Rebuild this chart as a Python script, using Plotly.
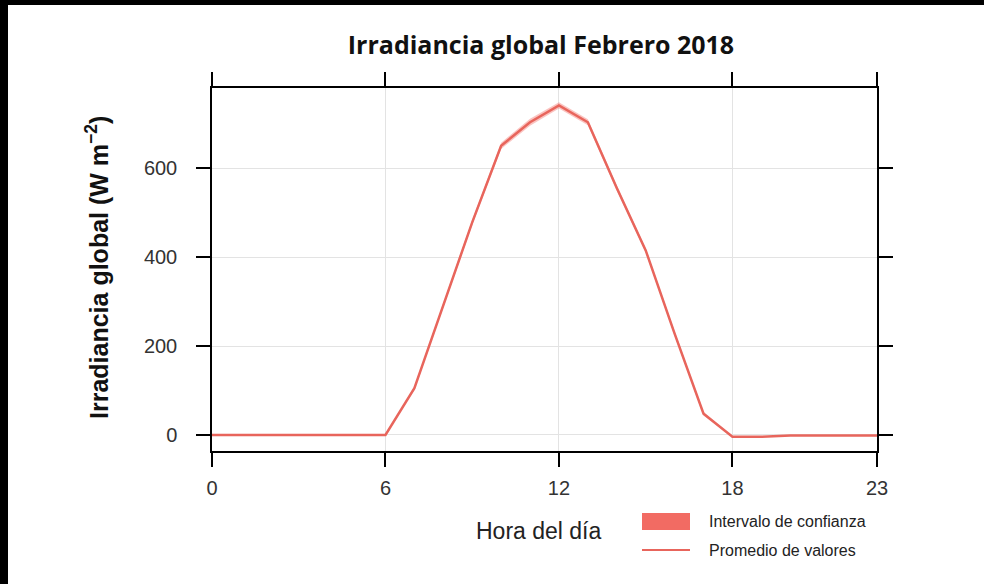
import plotly.graph_objects as go

hours = list(range(24))
mean_vals = [0, 0, 0, 0, 0, 0, 0, 105, 290, 478, 650, 703, 741, 703, 555, 415, 228, 48, -4, -4, -1, -1, -1, -1]
ci_vals = [0, 0, 0, 0, 0, 0, 0, 4, 5, 6, 7, 8, 7, 7, 6, 5, 5, 4, 1, 1, 0, 0, 0, 0]
x_ticks = [0, 6, 12, 18, 23]
y_ticks = [0, 200, 400, 600]

title_text = "Irradiancia global Febrero 2018"
y_title = "Irradiancia global (W m<sup>−2</sup>)"
x_title = "Hora del día"
band_name = "Intervalo de confianza"
line_name = "Promedio de valores"

upper = [m + c for m, c in zip(mean_vals, ci_vals)]
lower = [m - c for m, c in zip(mean_vals, ci_vals)]

W, H = 984, 584
ML, MR, MT, MB = 212, 107, 88, 133
PW, PH = W - ML - MR, H - MT - MB

BAND_COLOR = "rgba(242,107,99,0.40)"
LINE_COLOR = "#E8655C"
SWATCH_COLOR = "#F26B63"

fig = go.Figure()
fig.add_trace(go.Scatter(x=hours, y=lower, mode="lines", line=dict(width=0, color="rgba(0,0,0,0)"),
                         showlegend=False, hoverinfo="skip"))
fig.add_trace(go.Scatter(x=hours, y=upper, mode="lines", fill="tonexty",
                         fillcolor=BAND_COLOR, line=dict(width=0, color=BAND_COLOR),
                         name=band_name, showlegend=False))
fig.add_trace(go.Scatter(x=hours, y=mean_vals, mode="lines", line=dict(color=LINE_COLOR, width=2.5),
                         name=line_name, showlegend=False))

axis_common = dict(showline=True, linecolor="black", linewidth=1.5, mirror="allticks",
                   ticks="outside", ticklen=14, tickwidth=1.5, tickcolor="black",
                   showgrid=True, gridcolor="#e3e3e3", gridwidth=1, zeroline=False,
                   tickfont=dict(family="Liberation Sans, Arial", size=20, color="#333333"))

fig.update_xaxes(range=[0, 23], tickvals=x_ticks, ticktext=[str(v) for v in x_ticks],
                 ticklabelstandoff=4, **axis_common)
fig.update_yaxes(range=[-36, 780], tickvals=y_ticks, ticktext=[str(v) for v in y_ticks],
                 ticklabelstandoff=15, **axis_common)


def px_x(p):
    return (p - ML) / PW


def px_y(p):
    return (H - MB - p) / PH


annotations = [
    dict(text=x_title, xref="paper", yref="paper", x=px_x(539), y=px_y(531),
         xanchor="center", yanchor="middle", showarrow=False,
         font=dict(family="Liberation Sans, Arial", size=23, color="#222222")),
    dict(text="<b>" + y_title + "</b>", xref="paper", yref="paper", x=px_x(97), y=px_y(268),
         xanchor="center", yanchor="middle", showarrow=False, textangle=-90,
         font=dict(family="Liberation Sans, Arial", size=25, color="#111111")),
    dict(text=band_name, xref="paper", yref="paper", x=px_x(707), y=px_y(521),
         xanchor="left", yanchor="middle", showarrow=False,
         font=dict(family="Liberation Sans Narrow, Liberation Sans, Arial", size=16, color="#222222")),
    dict(text=line_name, xref="paper", yref="paper", x=px_x(707), y=px_y(550),
         xanchor="left", yanchor="middle", showarrow=False,
         font=dict(family="Liberation Sans Narrow, Liberation Sans, Arial", size=16, color="#222222")),
]

shapes = [
    dict(type="rect", xref="paper", yref="paper", x0=px_x(642), x1=px_x(690), y0=px_y(530), y1=px_y(513),
         fillcolor=SWATCH_COLOR, line=dict(width=0)),
    dict(type="line", xref="paper", yref="paper", x0=px_x(642), x1=px_x(690), y0=px_y(550), y1=px_y(550),
         line=dict(color=LINE_COLOR, width=2)),
    dict(type="rect", xref="paper", yref="paper", x0=px_x(0), x1=px_x(W), y0=px_y(5), y1=px_y(0),
         fillcolor="black", line=dict(width=0), layer="above"),
    dict(type="rect", xref="paper", yref="paper", x0=px_x(0), x1=px_x(8), y0=px_y(H), y1=px_y(0),
         fillcolor="black", line=dict(width=0), layer="above"),
]

fig.update_layout(
    width=W, height=H,
    margin=dict(l=ML, r=MR, t=MT, b=MB, autoexpand=False),
    paper_bgcolor="white", plot_bgcolor="white",
    title=dict(text="<b>" + title_text + "</b>", xref="container", x=541 / W, xanchor="center",
               yref="container", y=1 - 45 / H, yanchor="middle",
               font=dict(family="Open Sans, Lato", size=25, color="#111111")),
    showlegend=False,
    annotations=annotations,
    shapes=shapes,
)

fig.write_html("out.html", config={"displayModeBar": False},
               post_script="document.body.style.margin='0';document.body.style.overflow='hidden';")
